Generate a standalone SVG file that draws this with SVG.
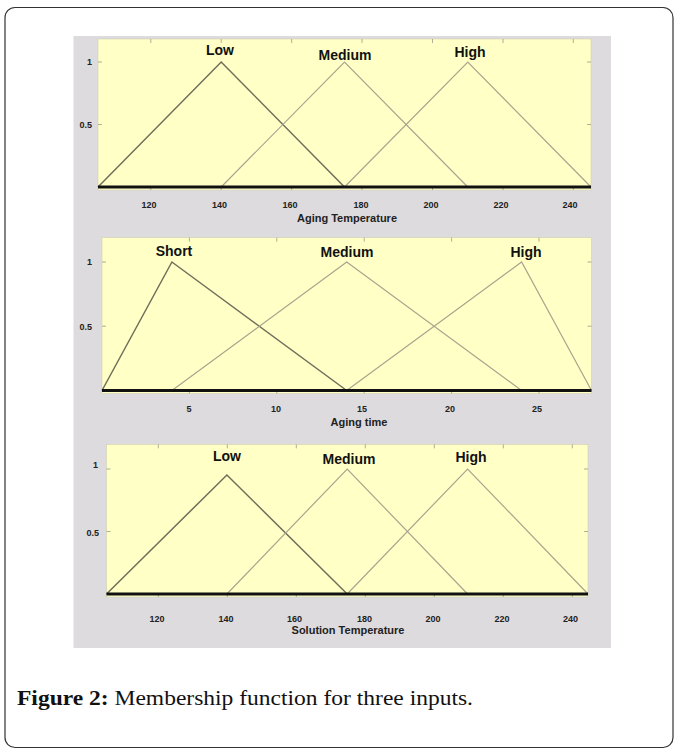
<svg xmlns="http://www.w3.org/2000/svg" width="677" height="751" viewBox="0 0 677 751">
<style>
.box{fill:#ffffc6;stroke:#cfcfb4;stroke-width:0.6}
.base{stroke:#111;stroke-width:3;fill:none}
.mfa{fill:none;stroke:#6f6f5c;stroke-width:1.5}
.mfb{fill:none;stroke:#a9a48e;stroke-width:1.2}
.tick{stroke:#9a9a8a;stroke-width:0.8}
.lbl{font-family:"Liberation Sans",Arial,sans-serif;font-weight:bold;font-size:14px;fill:#111;text-anchor:middle}
.tl{font-family:"Liberation Sans",Arial,sans-serif;font-weight:bold;font-size:9px;fill:#222;text-anchor:middle}
.yl{font-family:"Liberation Sans",Arial,sans-serif;font-weight:bold;font-size:9px;fill:#222;text-anchor:end}
.al{font-family:"Liberation Sans",Arial,sans-serif;font-weight:bold;font-size:11px;fill:#222;text-anchor:middle}
.cap{font-family:"Liberation Serif","Times New Roman",serif;font-size:20px;fill:#111}
</style>
<rect x="5" y="7.5" width="668" height="740" rx="10" fill="#fff" stroke="#333" stroke-width="1.2"/>
<rect id="figure" x="73.5" y="36" width="537.5" height="612" fill="#dddbdd"/>

<g id="plot-aging-temperature">
  <rect class="box" x="98" y="39" width="493" height="151"/>
  <g class="tick">
    <path d="M150.8 39v4M221.2 39v4M291.7 39v4M362 39v4M432.5 39v4M503 39v4M573.3 39v4M150.8 190v-4M221.2 190v-4M291.7 190v-4M362 190v-4M432.5 190v-4M503 190v-4M573.3 190v-4M98 62h4M98 124.5h4M591 62h-4M591 124.5h-4"/>
  </g>
  <polyline class="mfa" points="98,187 221.2,62 344.5,187"/>
  <polyline class="mfb" points="221.2,187 344.5,62 467.8,187"/>
  <polyline class="mfb" points="344.5,187 467.8,62 591,187"/>
  <line class="base" x1="98" y1="187" x2="591" y2="187"/>
  <text class="lbl" x="220" y="54.5">Low</text>
  <text class="lbl" x="345" y="59.5">Medium</text>
  <text class="lbl" x="470" y="57">High</text>
  <text class="yl" x="92" y="65">1</text>
  <text class="yl" x="92" y="128">0.5</text>
  <text class="tl" x="149" y="207.5">120</text>
  <text class="tl" x="219.5" y="207.5">140</text>
  <text class="tl" x="290" y="207.5">160</text>
  <text class="tl" x="361" y="207.5">180</text>
  <text class="tl" x="431" y="207.5">200</text>
  <text class="tl" x="501" y="207.5">220</text>
  <text class="tl" x="570" y="207.5">240</text>
  <text class="al" x="347" y="222">Aging Temperature</text>
</g>

<g id="plot-aging-time">
  <rect class="box" x="102" y="237.7" width="489.5" height="155.8"/>
  <g class="tick">
    <path d="M189.4 237.7v4M276.8 237.7v4M364.2 237.7v4M451.6 237.7v4M539 237.7v4M189.4 393.5v-4M276.8 393.5v-4M364.2 393.5v-4M451.6 393.5v-4M539 393.5v-4M102 262h4M102 326.2h4M591.5 262h-4M591.5 326.2h-4"/>
  </g>
  <polyline class="mfa" points="102,390.5 171.9,262 346.7,390.5"/>
  <polyline class="mfb" points="171.9,390.5 346.7,262 521.6,390.5"/>
  <polyline class="mfb" points="346.7,390.5 521.6,262 591.5,390.5"/>
  <line class="base" x1="102" y1="390.5" x2="591.5" y2="390.5"/>
  <text class="lbl" x="174" y="255.5">Short</text>
  <text class="lbl" x="347" y="257">Medium</text>
  <text class="lbl" x="526" y="256.5">High</text>
  <text class="yl" x="92" y="265">1</text>
  <text class="yl" x="92" y="329.5">0.5</text>
  <text class="tl" x="189" y="411.5">5</text>
  <text class="tl" x="276" y="411.5">10</text>
  <text class="tl" x="362" y="411.5">15</text>
  <text class="tl" x="450" y="411.5">20</text>
  <text class="tl" x="537" y="411.5">25</text>
  <text class="al" x="359" y="425.5">Aging time</text>
</g>

<g id="plot-solution-temperature">
  <rect class="box" x="106.5" y="444.4" width="481.5" height="152.6"/>
  <g class="tick">
    <path d="M158.3 444.4v4M227.3 444.4v4M296.3 444.4v4M365.3 444.4v4M434.3 444.4v4M503.3 444.4v4M572.3 444.4v4M158.3 597v-4M227.3 597v-4M296.3 597v-4M365.3 597v-4M434.3 597v-4M503.3 597v-4M572.3 597v-4M106.5 469h4M106.5 531.5h4M588 469h-4M588 531.5h-4"/>
  </g>
  <polyline class="mfa" points="106.5,594 226.9,475 347.2,594"/>
  <polyline class="mfb" points="226.9,594 347.2,469 467.6,594"/>
  <polyline class="mfb" points="347.2,594 467.6,469 588,594"/>
  <line class="base" x1="106.5" y1="594" x2="588" y2="594"/>
  <text class="lbl" x="227" y="461">Low</text>
  <text class="lbl" x="349" y="464">Medium</text>
  <text class="lbl" x="471" y="462">High</text>
  <text class="yl" x="98" y="468">1</text>
  <text class="yl" x="99" y="536">0.5</text>
  <text class="tl" x="157" y="621.5">120</text>
  <text class="tl" x="226" y="621.5">140</text>
  <text class="tl" x="294.5" y="621.5">160</text>
  <text class="tl" x="364.5" y="621.5">180</text>
  <text class="tl" x="433" y="621.5">200</text>
  <text class="tl" x="502" y="621.5">220</text>
  <text class="tl" x="570.5" y="621.5">240</text>
  <text class="al" x="348" y="634">Solution Temperature</text>
</g>

<g id="caption">
  <text class="cap" x="17" y="705" textLength="456" lengthAdjust="spacingAndGlyphs"><tspan font-weight="bold">Figure 2:</tspan> Membership function for three inputs.</text>
</g>
</svg>
